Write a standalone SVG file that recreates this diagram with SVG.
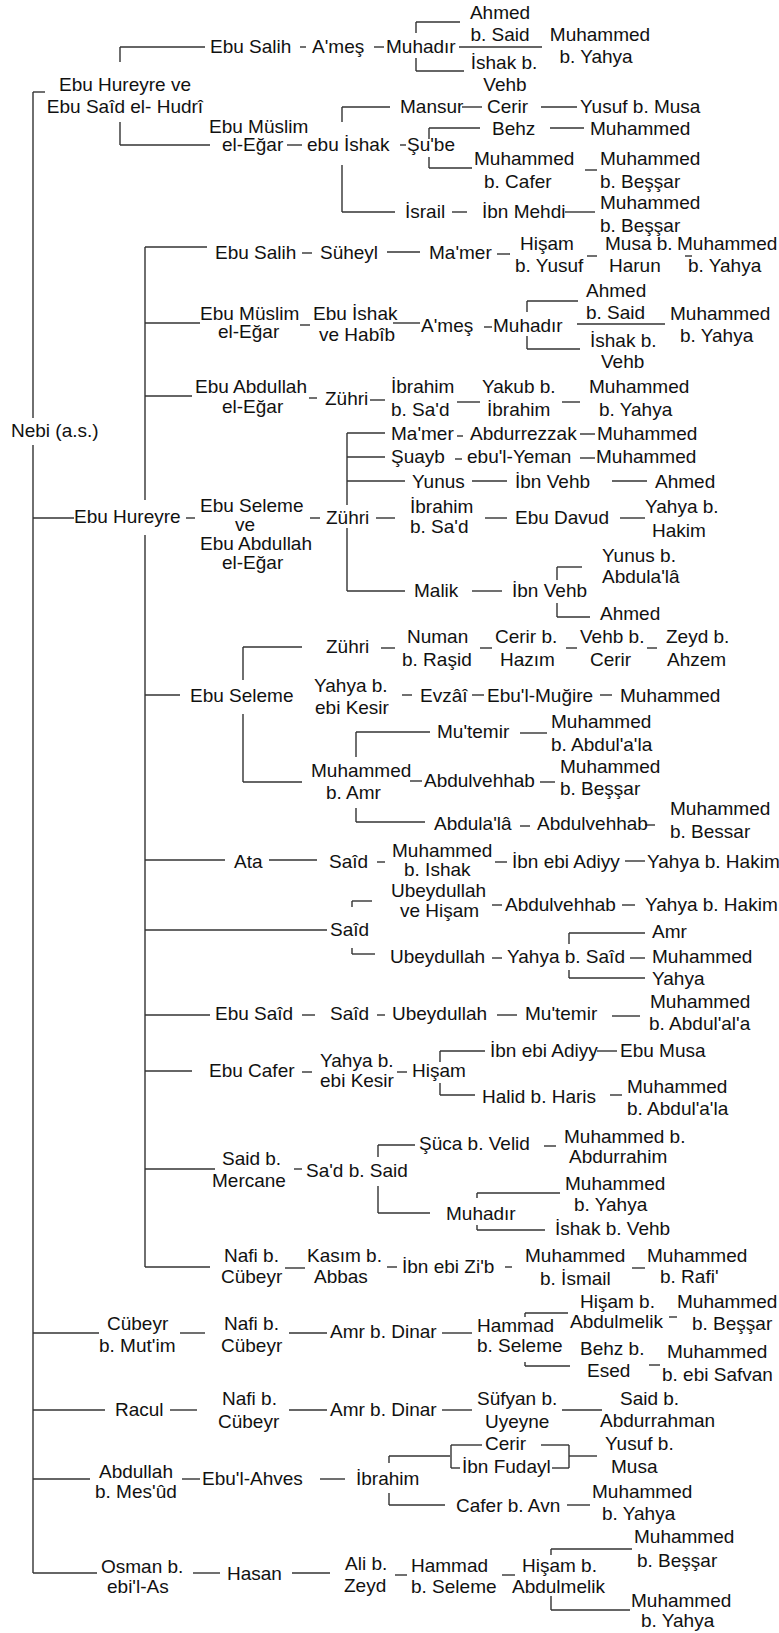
<svg xmlns="http://www.w3.org/2000/svg" width="779" height="1633" viewBox="0 0 779 1633">
<style>
text{font-family:"Liberation Sans",Arial,sans-serif;font-size:19px;fill:#111}
.m{text-anchor:middle}
#conn line{stroke:#333;stroke-width:1.4;fill:none}
</style>
<rect width="779" height="1633" fill="#fff"/>
<g id="conn">
<line x1="33" y1="92" x2="45" y2="92"/><line x1="33" y1="92" x2="33" y2="418"/><line x1="33" y1="445" x2="33" y2="1573"/>
<line x1="120" y1="47" x2="205" y2="47"/><line x1="120" y1="47" x2="120" y2="62"/><line x1="120" y1="122" x2="120" y2="145"/><line x1="120" y1="145" x2="210" y2="145"/>
<line x1="300" y1="47" x2="306" y2="47"/><line x1="374" y1="47" x2="384" y2="47"/>
<line x1="416" y1="22" x2="460" y2="22"/><line x1="416" y1="22" x2="416" y2="33"/><line x1="416" y1="58" x2="416" y2="71"/><line x1="416" y1="71" x2="464" y2="71"/>
<line x1="459" y1="47" x2="542" y2="47"/>
<line x1="342" y1="107" x2="390" y2="107"/><line x1="342" y1="107" x2="342" y2="122"/><line x1="342" y1="165" x2="342" y2="212"/><line x1="342" y1="212" x2="395" y2="212"/>
<line x1="462" y1="107" x2="482" y2="107"/><line x1="541" y1="107" x2="577" y2="107"/>
<line x1="429" y1="128" x2="480" y2="128"/><line x1="429" y1="128" x2="429" y2="139"/><line x1="429" y1="157" x2="429" y2="168"/><line x1="429" y1="168" x2="472" y2="168"/>
<line x1="550" y1="128" x2="584" y2="128"/><line x1="585" y1="170" x2="597" y2="170"/>
<line x1="452" y1="212" x2="467" y2="212"/><line x1="565" y1="212" x2="595" y2="212"/>
<line x1="287" y1="145" x2="302" y2="145"/><line x1="400" y1="145" x2="406" y2="145"/>
<line x1="33" y1="518" x2="74" y2="518"/><line x1="186" y1="518" x2="195" y2="518"/>
<line x1="145" y1="247" x2="145" y2="500"/><line x1="145" y1="535" x2="145" y2="1267"/>
<line x1="145" y1="247" x2="207" y2="247"/>
<line x1="302" y1="253" x2="312" y2="253"/><line x1="387" y1="252" x2="420" y2="252"/><line x1="497" y1="254" x2="510" y2="254"/><line x1="587" y1="256" x2="597" y2="256"/><line x1="685" y1="256" x2="692" y2="256"/>
<line x1="145" y1="323" x2="200" y2="323"/><line x1="300" y1="325" x2="310" y2="325"/><line x1="393" y1="323" x2="420" y2="323"/><line x1="484" y1="327" x2="492" y2="327"/>
<line x1="527" y1="301" x2="578" y2="301"/><line x1="527" y1="301" x2="527" y2="312"/><line x1="527" y1="336" x2="527" y2="349"/><line x1="527" y1="349" x2="580" y2="349"/><line x1="577" y1="324" x2="665" y2="324"/>
<line x1="145" y1="396" x2="192" y2="396"/><line x1="309" y1="398" x2="317" y2="398"/><line x1="370" y1="400" x2="385" y2="400"/><line x1="457" y1="402" x2="480" y2="402"/><line x1="562" y1="402" x2="580" y2="402"/>
<line x1="310" y1="518" x2="320" y2="518"/><line x1="376" y1="518" x2="395" y2="518"/>
<line x1="347" y1="433" x2="347" y2="505"/><line x1="347" y1="528" x2="347" y2="591"/>
<line x1="347" y1="433" x2="385" y2="433"/><line x1="347" y1="457" x2="385" y2="457"/><line x1="347" y1="481" x2="405" y2="481"/><line x1="347" y1="591" x2="405" y2="591"/>
<line x1="457" y1="436" x2="463" y2="436"/><line x1="580" y1="434" x2="595" y2="434"/>
<line x1="455" y1="459" x2="462" y2="459"/><line x1="580" y1="458" x2="595" y2="458"/>
<line x1="472" y1="481" x2="507" y2="481"/><line x1="612" y1="481" x2="647" y2="481"/>
<line x1="485" y1="518" x2="507" y2="518"/><line x1="620" y1="518" x2="645" y2="518"/>
<line x1="472" y1="591" x2="502" y2="591"/>
<line x1="557" y1="567" x2="582" y2="567"/><line x1="557" y1="567" x2="557" y2="580"/><line x1="557" y1="603" x2="557" y2="617"/><line x1="557" y1="617" x2="590" y2="617"/>
<line x1="145" y1="695" x2="180" y2="695"/>
<line x1="243" y1="647" x2="243" y2="680"/><line x1="243" y1="714" x2="243" y2="782"/><line x1="243" y1="647" x2="302" y2="647"/><line x1="243" y1="782" x2="302" y2="782"/>
<line x1="381" y1="648" x2="395" y2="648"/><line x1="480" y1="648" x2="492" y2="648"/><line x1="566" y1="648" x2="577" y2="648"/><line x1="647" y1="648" x2="657" y2="648"/>
<line x1="402" y1="695" x2="412" y2="695"/><line x1="472" y1="695" x2="484" y2="695"/><line x1="600" y1="695" x2="612" y2="695"/>
<line x1="410" y1="781" x2="422" y2="781"/><line x1="540" y1="782" x2="555" y2="782"/>
<line x1="356" y1="732" x2="356" y2="757"/><line x1="356" y1="732" x2="430" y2="732"/><line x1="520" y1="733" x2="547" y2="733"/>
<line x1="356" y1="808" x2="356" y2="822"/><line x1="356" y1="822" x2="425" y2="822"/><line x1="520" y1="826" x2="530" y2="826"/><line x1="645" y1="825" x2="655" y2="825"/>
<line x1="145" y1="860" x2="225" y2="860"/><line x1="269" y1="860" x2="317" y2="860"/><line x1="377" y1="862" x2="385" y2="862"/><line x1="495" y1="862" x2="507" y2="862"/><line x1="625" y1="861" x2="645" y2="861"/>
<line x1="145" y1="930" x2="327" y2="930"/>
<line x1="352" y1="901" x2="372" y2="901"/><line x1="352" y1="901" x2="352" y2="907"/><line x1="352" y1="948" x2="352" y2="954"/><line x1="352" y1="954" x2="375" y2="954"/>
<line x1="492" y1="905" x2="502" y2="905"/><line x1="622" y1="905" x2="635" y2="905"/>
<line x1="492" y1="958" x2="502" y2="958"/><line x1="630" y1="958" x2="645" y2="958"/>
<line x1="569" y1="933" x2="645" y2="933"/><line x1="569" y1="933" x2="569" y2="944"/><line x1="569" y1="970" x2="569" y2="978"/><line x1="569" y1="978" x2="645" y2="978"/>
<line x1="145" y1="1015" x2="210" y2="1015"/><line x1="302" y1="1015" x2="315" y2="1015"/><line x1="377" y1="1015" x2="385" y2="1015"/><line x1="497" y1="1015" x2="517" y2="1015"/><line x1="612" y1="1016" x2="640" y2="1016"/>
<line x1="145" y1="1071" x2="192" y2="1071"/><line x1="302" y1="1072" x2="312" y2="1072"/><line x1="397" y1="1072" x2="407" y2="1072"/>
<line x1="440" y1="1051" x2="485" y2="1051"/><line x1="440" y1="1051" x2="440" y2="1062"/><line x1="440" y1="1083" x2="440" y2="1095"/><line x1="440" y1="1095" x2="475" y2="1095"/>
<line x1="597" y1="1051" x2="617" y2="1051"/><line x1="610" y1="1095" x2="622" y2="1095"/>
<line x1="145" y1="1169" x2="215" y2="1169"/><line x1="294" y1="1169" x2="302" y2="1169"/>
<line x1="378" y1="1145" x2="415" y2="1145"/><line x1="378" y1="1145" x2="378" y2="1157"/><line x1="378" y1="1186" x2="378" y2="1213"/><line x1="378" y1="1213" x2="430" y2="1213"/>
<line x1="544" y1="1146" x2="556" y2="1146"/>
<line x1="477" y1="1193" x2="560" y2="1193"/><line x1="477" y1="1193" x2="477" y2="1198"/><line x1="477" y1="1225" x2="477" y2="1230"/><line x1="477" y1="1230" x2="545" y2="1230"/>
<line x1="145" y1="1267" x2="210" y2="1267"/><line x1="285" y1="1268" x2="305" y2="1268"/><line x1="387" y1="1267" x2="397" y2="1267"/><line x1="505" y1="1267" x2="512" y2="1267"/><line x1="632" y1="1268" x2="645" y2="1268"/>
<line x1="33" y1="1333" x2="99" y2="1333"/><line x1="180" y1="1333" x2="205" y2="1333"/><line x1="289" y1="1333" x2="327" y2="1333"/><line x1="442" y1="1333" x2="472" y2="1333"/>
<line x1="525" y1="1313" x2="568" y2="1313"/><line x1="525" y1="1313" x2="525" y2="1317"/><line x1="525" y1="1362" x2="525" y2="1366"/><line x1="525" y1="1366" x2="570" y2="1366"/>
<line x1="669" y1="1317" x2="677" y2="1317"/><line x1="649" y1="1365" x2="660" y2="1365"/>
<line x1="33" y1="1410" x2="105" y2="1410"/><line x1="170" y1="1410" x2="197" y2="1410"/><line x1="289" y1="1410" x2="327" y2="1410"/><line x1="442" y1="1410" x2="472" y2="1410"/><line x1="562" y1="1410" x2="602" y2="1410"/>
<line x1="33" y1="1479" x2="90" y2="1479"/><line x1="182" y1="1479" x2="200" y2="1479"/><line x1="320" y1="1479" x2="345" y2="1479"/>
<line x1="389" y1="1456" x2="450" y2="1456"/><line x1="389" y1="1456" x2="389" y2="1463"/><line x1="389" y1="1493" x2="389" y2="1505"/><line x1="389" y1="1505" x2="445" y2="1505"/>
<line x1="451" y1="1445" x2="451" y2="1468"/><line x1="451" y1="1445" x2="482" y2="1445"/><line x1="451" y1="1468" x2="460" y2="1468"/>
<line x1="541" y1="1445" x2="569" y2="1445"/><line x1="569" y1="1445" x2="569" y2="1468"/><line x1="552" y1="1468" x2="569" y2="1468"/><line x1="569" y1="1456" x2="597" y2="1456"/>
<line x1="567" y1="1505" x2="590" y2="1505"/>
<line x1="33" y1="1573" x2="97" y2="1573"/><line x1="193" y1="1573" x2="220" y2="1573"/><line x1="292" y1="1573" x2="330" y2="1573"/><line x1="395" y1="1575" x2="407" y2="1575"/><line x1="502" y1="1575" x2="515" y2="1575"/>
<line x1="551" y1="1549" x2="632" y2="1549"/><line x1="551" y1="1549" x2="551" y2="1555"/><line x1="551" y1="1596" x2="551" y2="1610"/><line x1="551" y1="1610" x2="630" y2="1610"/>
</g>
<g id="n-nebi"><text x="11" y="437">Nebi (a.s.)</text></g>
<g id="a0"><text class="m" x="125" y="91">Ebu Hureyre ve</text><text class="m" x="125" y="113">Ebu Saîd el- Hudrî</text></g>
<g id="a1"><text x="210" y="53">Ebu Salih</text></g>
<g id="a2"><text x="312" y="53">A'meş</text></g>
<g id="a3"><text x="386" y="53">Muhadır</text></g>
<g id="a4"><text class="m" x="500" y="19">Ahmed</text><text class="m" x="500" y="41">b. Said</text></g>
<g id="a5"><text class="m" x="504" y="69">İshak b.</text><text class="m" x="505" y="91">Vehb</text></g>
<g id="a6"><text class="m" x="600" y="41">Muhammed</text><text class="m" x="596" y="63">b. Yahya</text></g>
<g id="a7"><text x="209" y="133">Ebu Müslim</text><text x="222" y="151">el-Eğar</text></g>
<g id="a8"><text x="307" y="151">ebu İshak</text></g>
<g id="a9"><text x="407" y="151">Şu'be</text></g>
<g id="a10"><text x="400" y="113">Mansur</text></g>
<g id="a11"><text x="487" y="113">Cerir</text></g>
<g id="a12"><text x="580" y="113">Yusuf b. Musa</text></g>
<g id="a13"><text x="492" y="135">Behz</text></g>
<g id="a14"><text x="590" y="135">Muhammed</text></g>
<g id="a15"><text x="474" y="165">Muhammed</text><text x="484" y="188">b. Cafer</text></g>
<g id="a16"><text x="600" y="165">Muhammed</text><text x="600" y="188">b. Beşşar</text></g>
<g id="a17"><text x="405" y="218">İsrail</text></g>
<g id="a18"><text x="482" y="218">İbn Mehdi</text></g>
<g id="a19"><text x="600" y="209">Muhammed</text><text x="600" y="232">b. Beşşar</text></g>
<g id="b0"><text x="74" y="523">Ebu Hureyre</text></g>
<g id="b1"><text x="215" y="259">Ebu Salih</text></g>
<g id="b2"><text x="320" y="259">Süheyl</text></g>
<g id="b3"><text x="429" y="259">Ma'mer</text></g>
<g id="b4"><text x="520" y="250">Hişam</text><text x="515" y="272">b. Yusuf</text></g>
<g id="b5"><text x="605" y="250">Musa b.</text><text x="609" y="272">Harun</text></g>
<g id="b6"><text x="677" y="250">Muhammed</text><text x="688" y="272">b. Yahya</text></g>
<g id="b7"><text x="200" y="320">Ebu Müslim</text><text x="218" y="338">el-Eğar</text></g>
<g id="b8"><text x="313" y="320">Ebu İshak</text><text x="319" y="341">ve Habîb</text></g>
<g id="b9"><text x="421" y="332">A'meş</text></g>
<g id="b10"><text x="493" y="332">Muhadır</text></g>
<g id="b11"><text x="586" y="297">Ahmed</text><text x="586" y="319">b. Said</text></g>
<g id="b12"><text x="590" y="347">İshak b.</text><text x="601" y="368">Vehb</text></g>
<g id="b13"><text x="670" y="320">Muhammed</text><text x="680" y="342">b. Yahya</text></g>
<g id="b14"><text x="195" y="393">Ebu Abdullah</text><text x="222" y="413">el-Eğar</text></g>
<g id="b15"><text x="325" y="405">Zühri</text></g>
<g id="b16"><text x="391" y="393">İbrahim</text><text x="391" y="416">b. Sa'd</text></g>
<g id="b17"><text x="482" y="393">Yakub b.</text><text x="487" y="416">İbrahim</text></g>
<g id="b18"><text x="589" y="393">Muhammed</text><text x="599" y="416">b. Yahya</text></g>
<g id="b19"><text x="200" y="512">Ebu Seleme</text><text x="235" y="531">ve</text><text x="200" y="550">Ebu Abdullah</text><text x="222" y="569">el-Eğar</text></g>
<g id="b20"><text x="326" y="524">Zühri</text></g>
<g id="b21"><text x="391" y="440">Ma'mer</text></g>
<g id="b22"><text x="470" y="440">Abdurrezzak</text></g>
<g id="b23"><text x="597" y="440">Muhammed</text></g>
<g id="b24"><text x="391" y="463">Şuayb</text></g>
<g id="b25"><text x="467" y="463">ebu'l-Yeman</text></g>
<g id="b26"><text x="596" y="463">Muhammed</text></g>
<g id="b27"><text x="412" y="488">Yunus</text></g>
<g id="b28"><text x="515" y="488">İbn Vehb</text></g>
<g id="b29"><text x="655" y="488">Ahmed</text></g>
<g id="b30"><text x="410" y="513">İbrahim</text><text x="410" y="533">b. Sa'd</text></g>
<g id="b31"><text x="515" y="524">Ebu Davud</text></g>
<g id="b32"><text x="645" y="513">Yahya b.</text><text x="652" y="537">Hakim</text></g>
<g id="b33"><text x="414" y="597">Malik</text></g>
<g id="b34"><text x="512" y="597">İbn Vehb</text></g>
<g id="b35"><text x="602" y="562">Yunus b.</text><text x="602" y="583">Abdula'lâ</text></g>
<g id="b36"><text x="600" y="620">Ahmed</text></g>
<g id="c0"><text x="190" y="702">Ebu Seleme</text></g>
<g id="c1"><text x="326" y="653">Zühri</text></g>
<g id="c2"><text x="407" y="643">Numan</text><text x="402" y="666">b. Raşid</text></g>
<g id="c3"><text x="495" y="643">Cerir b.</text><text x="500" y="666">Hazım</text></g>
<g id="c4"><text x="580" y="643">Vehb b.</text><text x="590" y="666">Cerir</text></g>
<g id="c5"><text x="666" y="643">Zeyd b.</text><text x="667" y="666">Ahzem</text></g>
<g id="c6"><text x="314" y="692">Yahya b.</text><text x="315" y="714">ebi Kesir</text></g>
<g id="c7"><text x="420" y="702">Evzâî</text></g>
<g id="c8"><text x="487" y="702">Ebu'l-Muğire</text></g>
<g id="c9"><text x="620" y="702">Muhammed</text></g>
<g id="c10"><text x="311" y="777">Muhammed</text><text x="326" y="799">b. Amr</text></g>
<g id="c11"><text x="437" y="738">Mu'temir</text></g>
<g id="c12"><text x="551" y="728">Muhammed</text><text x="551" y="751">b. Abdul'a'la</text></g>
<g id="c13"><text x="424" y="787">Abdulvehhab</text></g>
<g id="c14"><text x="560" y="773">Muhammed</text><text x="560" y="795">b. Beşşar</text></g>
<g id="c15"><text x="434" y="830">Abdula'lâ</text></g>
<g id="c16"><text x="537" y="830">Abdulvehhab</text></g>
<g id="c17"><text x="670" y="815">Muhammed</text><text x="670" y="838">b. Bessar</text></g>
<g id="d0"><text x="234" y="868">Ata</text></g>
<g id="d1"><text x="329" y="868">Saîd</text></g>
<g id="d2"><text x="392" y="857">Muhammed</text><text x="404" y="876">b. Ishak</text></g>
<g id="d3"><text x="512" y="868">İbn ebi Adiyy</text></g>
<g id="d4"><text x="647" y="868">Yahya b. Hakim</text></g>
<g id="d5"><text x="330" y="936">Saîd</text></g>
<g id="d6"><text x="391" y="897">Ubeydullah</text><text x="400" y="917">ve Hişam</text></g>
<g id="d7"><text x="505" y="911">Abdulvehhab</text></g>
<g id="d8"><text x="645" y="911">Yahya b. Hakim</text></g>
<g id="d9"><text x="390" y="963">Ubeydullah</text></g>
<g id="d10"><text x="507" y="963">Yahya b. Saîd</text></g>
<g id="d11"><text x="652" y="938">Amr</text></g>
<g id="d12"><text x="652" y="963">Muhammed</text></g>
<g id="d13"><text x="652" y="985">Yahya</text></g>
<g id="e0"><text x="215" y="1020">Ebu Saîd</text></g>
<g id="e1"><text x="330" y="1020">Saîd</text></g>
<g id="e2"><text x="392" y="1020">Ubeydullah</text></g>
<g id="e3"><text x="525" y="1020">Mu'temir</text></g>
<g id="e4"><text x="650" y="1008">Muhammed</text><text x="649" y="1030">b. Abdul'al'a</text></g>
<g id="e5"><text x="209" y="1077">Ebu Cafer</text></g>
<g id="e6"><text x="320" y="1067">Yahya b.</text><text x="320" y="1087">ebi Kesir</text></g>
<g id="e7"><text x="412" y="1077">Hişam</text></g>
<g id="e8"><text x="490" y="1057">İbn ebi Adiyy</text></g>
<g id="e9"><text x="620" y="1057">Ebu Musa</text></g>
<g id="e10"><text x="482" y="1103">Halid b. Haris</text></g>
<g id="e11"><text x="627" y="1093">Muhammed</text><text x="627" y="1115">b. Abdul'a'la</text></g>
<g id="f0"><text x="222" y="1165">Said b.</text><text x="212" y="1187">Mercane</text></g>
<g id="f1"><text x="306" y="1177">Sa'd b. Said</text></g>
<g id="f2"><text x="419" y="1150">Şüca b. Velid</text></g>
<g id="f3"><text x="564" y="1143">Muhammed b.</text><text x="569" y="1163">Abdurrahim</text></g>
<g id="f4"><text x="446" y="1220">Muhadır</text></g>
<g id="f5"><text x="565" y="1190">Muhammed</text><text x="574" y="1211">b. Yahya</text></g>
<g id="f6"><text x="555" y="1235">İshak b. Vehb</text></g>
<g id="f7"><text x="224" y="1262">Nafi b.</text><text x="221" y="1283">Cübeyr</text></g>
<g id="f8"><text x="307" y="1262">Kasım b.</text><text x="314" y="1283">Abbas</text></g>
<g id="f9"><text x="402" y="1273">İbn ebi Zi'b</text></g>
<g id="f10"><text x="525" y="1262">Muhammed</text><text x="540" y="1285">b. İsmail</text></g>
<g id="f11"><text x="647" y="1262">Muhammed</text><text x="660" y="1283">b. Rafi'</text></g>
<g id="g0"><text x="107" y="1330">Cübeyr</text><text x="99" y="1352">b. Mut'im</text></g>
<g id="g1"><text x="224" y="1330">Nafi b.</text><text x="221" y="1352">Cübeyr</text></g>
<g id="g2"><text x="330" y="1338">Amr b. Dinar</text></g>
<g id="g3"><text x="477" y="1332">Hammad</text><text x="477" y="1352">b. Seleme</text></g>
<g id="g4"><text x="580" y="1308">Hişam b.</text><text x="570" y="1328">Abdulmelik</text></g>
<g id="g5"><text x="677" y="1308">Muhammed</text><text x="692" y="1330">b. Beşşar</text></g>
<g id="g6"><text x="580" y="1355">Behz b.</text><text x="587" y="1377">Esed</text></g>
<g id="g7"><text x="667" y="1358">Muhammed</text><text x="662" y="1381">b. ebi Safvan</text></g>
<g id="h0"><text x="115" y="1416">Racul</text></g>
<g id="h1"><text x="222" y="1405">Nafi b.</text><text x="218" y="1428">Cübeyr</text></g>
<g id="h2"><text x="330" y="1416">Amr b. Dinar</text></g>
<g id="h3"><text x="477" y="1405">Süfyan b.</text><text x="485" y="1428">Uyeyne</text></g>
<g id="h4"><text x="620" y="1405">Said b.</text><text x="600" y="1427">Abdurrahman</text></g>
<g id="i0"><text x="99" y="1478">Abdullah</text><text x="95" y="1498">b. Mes'ûd</text></g>
<g id="i1"><text x="202" y="1485">Ebu'l-Ahves</text></g>
<g id="i2"><text x="356" y="1485">İbrahim</text></g>
<g id="i3"><text x="485" y="1450">Cerir</text></g>
<g id="i4"><text x="462" y="1473">İbn Fudayl</text></g>
<g id="i5"><text x="605" y="1450">Yusuf b.</text><text x="611" y="1473">Musa</text></g>
<g id="i6"><text x="456" y="1512">Cafer b. Avn</text></g>
<g id="i7"><text x="592" y="1498">Muhammed</text><text x="602" y="1520">b. Yahya</text></g>
<g id="j0"><text x="101" y="1573">Osman b.</text><text x="107" y="1593">ebi'l-As</text></g>
<g id="j1"><text x="227" y="1580">Hasan</text></g>
<g id="j2"><text x="345" y="1570">Ali b.</text><text x="344" y="1592">Zeyd</text></g>
<g id="j3"><text x="411" y="1572">Hammad</text><text x="411" y="1593">b. Seleme</text></g>
<g id="j4"><text x="522" y="1572">Hişam b.</text><text x="512" y="1593">Abdulmelik</text></g>
<g id="j5"><text x="634" y="1543">Muhammed</text><text x="637" y="1567">b. Beşşar</text></g>
<g id="j6"><text x="631" y="1607">Muhammed</text><text x="641" y="1627">b. Yahya</text></g>
</svg>
